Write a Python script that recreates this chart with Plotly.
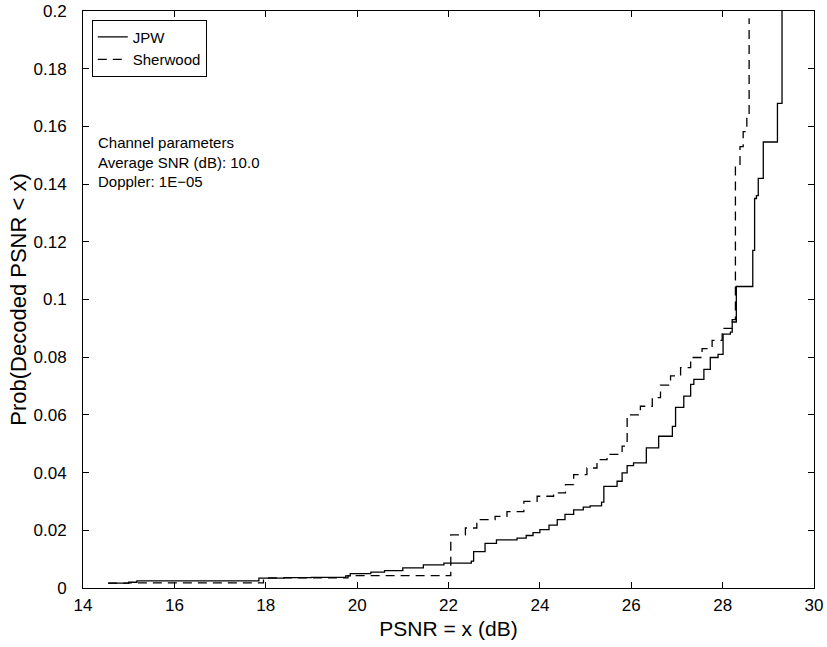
import plotly.graph_objects as go

# JPW (solid) CDF step points: value holds from x onward
jpw_x = [14.55, 15.0, 15.18, 17.85, 18.4, 19.0, 19.75, 19.85, 20.3, 20.6, 21.0, 21.45, 21.9,
         22.5, 22.55, 22.8, 23.05, 23.5, 23.7, 23.85, 24.0, 24.2, 24.38, 24.55, 24.74, 24.95,
         25.1, 25.35, 25.4, 25.69, 25.8, 25.91, 26.05, 26.33, 26.6, 26.9, 26.97, 27.15, 27.3,
         27.37, 27.59, 27.73, 27.9, 28.01, 28.17, 28.21, 28.30, 28.66, 28.70, 28.74, 28.78,
         28.89, 29.2, 29.3]
jpw_y = [0.0017, 0.0020, 0.0025, 0.0034, 0.0036, 0.0037, 0.0042, 0.0050, 0.0055, 0.0060, 0.0070,
         0.0080, 0.0086, 0.0093, 0.0126, 0.0155, 0.0167, 0.0173, 0.0182, 0.0192, 0.0202, 0.0218,
         0.0237, 0.0255, 0.0271, 0.0280, 0.0285, 0.0298, 0.0352, 0.0370, 0.0399, 0.0424, 0.0434,
         0.0486, 0.0526, 0.0560, 0.0626, 0.0665, 0.0706, 0.0723, 0.0758, 0.0799, 0.0810, 0.0880,
         0.0887, 0.0922, 0.1045, 0.1170, 0.1350, 0.1360, 0.1420, 0.1546, 0.1680, 0.2000]

# Sherwood (dashed)
sher_x = [14.55, 15.0, 17.95, 19.8, 22.05, 22.37, 22.62, 23.02, 23.28, 23.65, 23.94, 24.3,
          24.56, 24.74, 25.03, 25.25, 25.47, 25.8, 25.91, 26.2, 26.46, 26.64, 26.86, 27.08,
          27.3, 27.55, 27.77, 27.99, 28.21, 28.28, 28.38, 28.45, 28.53, 28.58]
sher_y = [0.0017, 0.0018, 0.0035, 0.0043, 0.0184, 0.0208, 0.0237, 0.0248, 0.0265, 0.0300,
          0.0318, 0.0330, 0.0358, 0.0393, 0.0416, 0.0445, 0.0463, 0.0492, 0.0600, 0.0630,
          0.0660, 0.0703, 0.0735, 0.0764, 0.0799, 0.0830, 0.0858, 0.0900, 0.0930, 0.1465,
          0.1530, 0.1582, 0.1640, 0.1975]

x_ticks = [14, 16, 18, 20, 22, 24, 26, 28, 30]
y_ticks = [0, 0.02, 0.04, 0.06, 0.08, 0.1, 0.12, 0.14, 0.16, 0.18, 0.2]
y_ticktext = ["0", "0.02", "0.04", "0.06", "0.08", "0.1", "0.12", "0.14", "0.16", "0.18", "0.2"]

FONT = "Liberation Sans, Arial, Helvetica, sans-serif"

fig = go.Figure()
fig.add_trace(go.Scatter(x=jpw_x, y=jpw_y, mode="lines", name="JPW",
                         line=dict(color="black", width=1.3, shape="hv")))
fig.add_trace(go.Scatter(x=sher_x, y=sher_y, mode="lines", name="Sherwood",
                         line=dict(color="black", width=1.3, shape="hv", dash="9px,6px")))

axis_common = dict(showline=True, linecolor="black", linewidth=1, mirror="ticks",
                   ticks="inside", ticklen=6, tickcolor="black", tickwidth=1,
                   showgrid=False, zeroline=False, automargin=False,
                   ticklabeloverflow="allow",
                   tickfont=dict(family=FONT, size=17, color="black"))

fig.update_xaxes(range=[14, 30], tickvals=x_ticks, ticktext=[str(t) for t in x_ticks],
                 ticklabelstandoff=2,
                 title=dict(text="PSNR = x (dB)", font=dict(family=FONT, size=21, color="black"),
                            standoff=6),
                 **axis_common)
fig.update_yaxes(range=[0, 0.2], tickvals=y_ticks, ticktext=y_ticktext,
                 ticklabelstandoff=12,
                 title=dict(text="Prob(Decoded PSNR < x)", font=dict(family=FONT, size=22, color="black"),
                            standoff=0),
                 **axis_common)

fig.add_annotation(xref="paper", yref="paper", x=0.018, y=0.79, xanchor="left", yanchor="top",
                   align="left", showarrow=False,
                   text="Channel parameters<br>Average SNR (dB): 10.0<br>Doppler: 1E\u221205",
                   font=dict(family=FONT, size=15, color="black"))

fig.update_layout(
    width=827, height=647,
    margin=dict(l=83, r=13, t=11, b=59),
    paper_bgcolor="white", plot_bgcolor="white",
    font=dict(family=FONT, color="black"),
    legend=dict(x=0.012, y=0.985, xanchor="left", yanchor="top",
                bordercolor="black", borderwidth=1, bgcolor="white",
                font=dict(family=FONT, size=15, color="black"),
                itemwidth=30, tracegroupgap=0),
    showlegend=True,
)

# remove the default 8px page margin so the figure fills the window exactly
fig.write_html("out.html", config={"displayModeBar": False},
               post_script="document.body.style.margin='0';")
